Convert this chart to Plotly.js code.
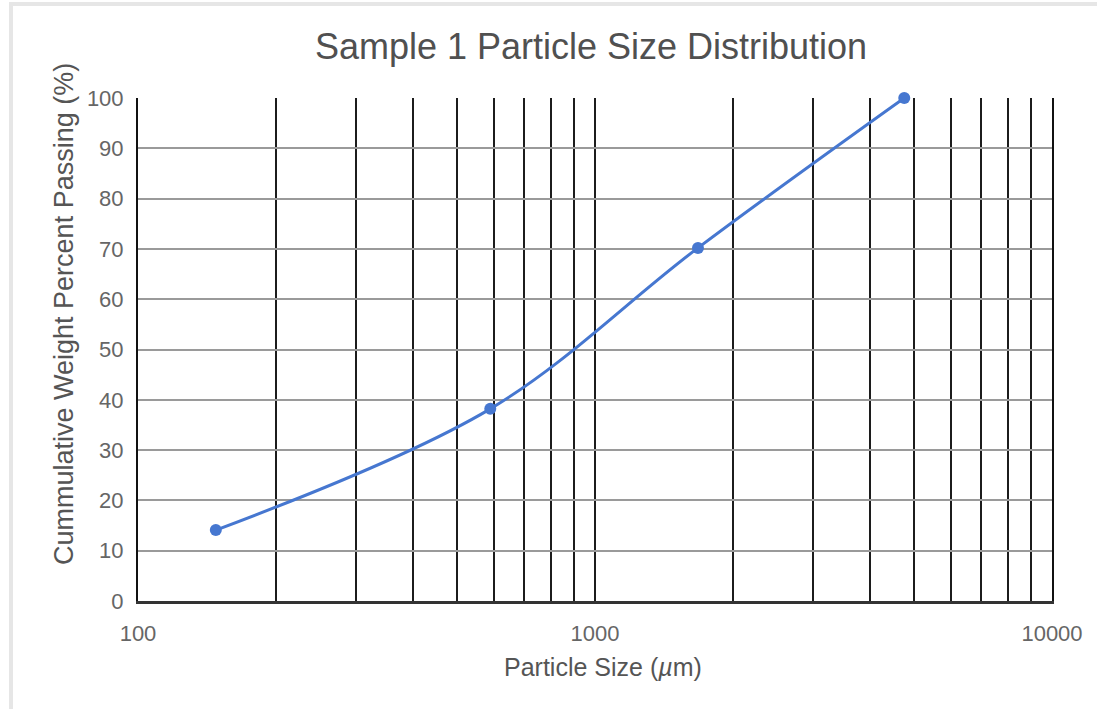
<!DOCTYPE html>
<html>
<head>
<meta charset="utf-8">
<script src="https://cdn.plot.ly/plotly-3.0.1.min.js"></script>
<style>
  html, body { margin: 0; padding: 0; background: #ffffff; }
  #frame { position: absolute; top: 2px; left: 9px; width: 1090px; height: 710px;
           border-top: 4px solid #e6e6e6; border-left: 4px solid #e6e6e6; box-sizing: border-box; }
  #chart { position: absolute; top: 0; left: 0; width: 1097px; height: 709px; }
</style>
</head>
<body>
<div id="frame"></div>
<div id="chart"></div>
<script>
// Data
const particleSize = [148, 590, 1680, 4750];          // µm
const percentPassing = [14.1, 38.2, 70.2, 100];       // %

// Tick / grid positions on the log x-axis
const xTickVals = [100, 200, 300, 400, 500, 600, 700, 800, 900,
                   1000, 2000, 3000, 4000, 5000, 6000, 7000, 8000, 9000, 10000];
const xTickText = ['100', '', '', '', '', '', '', '', '',
                   '1000', '', '', '', '', '', '', '', '', '10000'];
const yTickVals = [0, 10, 20, 30, 40, 50, 60, 70, 80, 90, 100];

const chartTitle = 'Sample 1 Particle Size Distribution';
const xTitle = 'Particle Size (<i>µ</i>m)';
const yTitle = 'Cummulative Weight Percent Passing (%)';

const fontFam = 'Liberation Sans, Arial, Helvetica, sans-serif';

const trace = {
  x: particleSize,
  y: percentPassing,
  type: 'scatter',
  mode: 'lines+markers',
  line: { color: '#4677d0', width: 3, shape: 'spline', smoothing: 1 },
  marker: { color: '#4677d0', size: 12 },
  cliponaxis: false,
  hoverinfo: 'x+y'
};

const layout = {
  width: 1097,
  height: 709,
  paper_bgcolor: 'rgba(0,0,0,0)',
  plot_bgcolor: '#ffffff',
  margin: { l: 138, r: 45, t: 98, b: 108 },
  showlegend: false,
  title: {
    text: chartTitle,
    font: { family: fontFam, size: 36, color: '#505050' },
    x: 591 / 1097, xref: 'container', xanchor: 'center',
    y: 1 - 46 / 709, yref: 'container', yanchor: 'middle'
  },
  xaxis: {
    type: 'log',
    range: [2, 4],
    tickmode: 'array',
    tickvals: xTickVals,
    ticktext: xTickText,
    ticks: '',
    ticklabelstandoff: 11,
    showgrid: true,
    gridcolor: '#1c1c1c',
    gridwidth: 2,
    showline: true,
    linecolor: '#333333',
    linewidth: 2.5,
    zeroline: false,
    tickfont: { family: fontFam, size: 22, color: '#666666' },
    automargin: false
  },
  yaxis: {
    range: [0, 100],
    tickmode: 'array',
    tickvals: yTickVals,
    ticks: '',
    ticklabelstandoff: 8,
    showgrid: true,
    gridcolor: '#9a9a9a',
    gridwidth: 2,
    showline: true,
    mirror: true,
    linecolor: '#111111',
    linewidth: 2,
    zeroline: false,
    tickfont: { family: fontFam, size: 22, color: '#666666' },
    automargin: false
  },
  annotations: [
    {
      text: xTitle,
      xref: 'paper', yref: 'paper',
      x: (603 - 138) / 914, y: -(667 - 601) / 503,
      xanchor: 'center', yanchor: 'middle',
      showarrow: false,
      font: { family: fontFam, size: 25, color: '#555555' }
    },
    {
      text: yTitle,
      xref: 'paper', yref: 'paper',
      x: -(138 - 64) / 914, y: (601 - 314) / 503,
      xanchor: 'center', yanchor: 'middle',
      textangle: -90,
      showarrow: false,
      font: { family: fontFam, size: 27, color: '#555555' }
    }
  ]
};

Plotly.newPlot('chart', [trace], layout, { displayModeBar: false, staticPlot: true });
</script>
</body>
</html>
